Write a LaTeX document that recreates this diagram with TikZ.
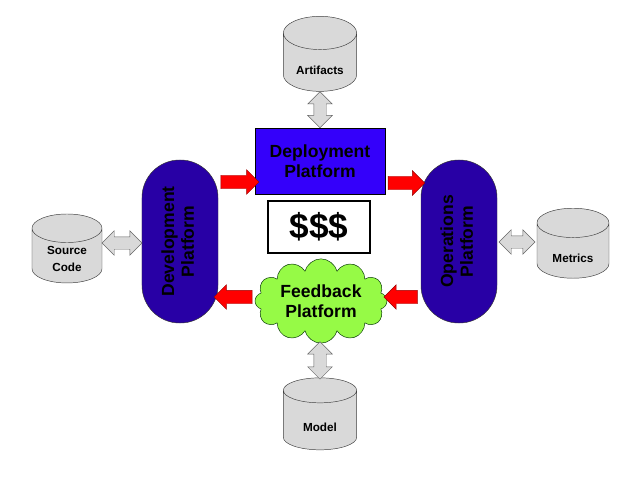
\documentclass[tikz,border=0pt]{standalone}
\usepackage{fontspec}
\setmainfont{Liberation Sans}
\usetikzlibrary{shapes.geometric,shapes.arrows,shapes.symbols}

\definecolor{deployblue}{RGB}{52,0,250}
\definecolor{pillblue}{RGB}{40,0,165}
\definecolor{cloudgreen}{RGB}{150,250,70}

\tikzstyle{store} = [cylinder, shape border rotate=90, aspect=0.6, draw=black!75, fill=black!15,%
                     minimum width=2.2cm, minimum height=2.25cm, align=center,%
                     font=\fontsize{10}{14}\selectfont\bfseries]
\tikzstyle{platform} = [draw=black, align=center, font=\fontsize{15}{17}\selectfont\bfseries]
\tikzstyle{pill} = [platform, draw=black!80, fill=pillblue, minimum width=2.28cm,%
                    minimum height=4.89cm, rounded corners=1.13cm]
\tikzstyle{link} = [double arrow, draw=black!60, fill=black!15, inner xsep=0pt, inner ysep=0.18cm,%
                    double arrow head extend=0.18cm, sloped, allow upside down]
\tikzstyle{flow} = [single arrow, draw=red!60!black, fill=red, inner xsep=0pt, inner ysep=0.195cm,%
                    single arrow head extend=0.165cm, sloped, allow upside down]

\begin{document}
\begin{tikzpicture}[x=0.03cm, y=-0.03cm]
	\useasboundingbox[fill=white] (0,0) rectangle (640,480);

	\node (Deploy)   [platform, fill=deployblue, minimum width=3.9cm, minimum height=1.98cm] at (320,161) {Deployment\\Platform};
	\node (DevPlat)  [pill] at (180,241.5) {\rotatebox{90}{\begin{tabular}{c}Development\\Platform\end{tabular}}};
	\node (OpsPlat)  [pill] at (459,241.5) {\rotatebox{90}{\begin{tabular}{c}Operations\\Platform\end{tabular}}};
	\node (Money)    [draw=black, line width=1.5pt, minimum width=3.06cm, minimum height=1.56cm,%
	                  font=\fontsize{30}{30}\selectfont\bfseries] at (319,227) {\$\$\$};
	\node (Feedback) [platform, cloud, cloud puffs=12, aspect=1.8, fill=cloudgreen, draw=black!80!green,%
	                  minimum width=3.96cm, minimum height=2.3cm, inner sep=0pt] at (321,301) {Feedback\\Platform};

	\node (Artifacts)  [store] at (320,66) {\\Artifacts};
	\node (SourceCode) [store, minimum width=2.1cm, minimum height=2.0cm] at (67,259) {Source\\Code};
	\node (Metrics)    [store, minimum width=2.16cm, minimum height=2.1cm] at (573,254) {\\Metrics};
	\node (Model)      [store, minimum height=2.16cm] at (320,423) {\\Model};

	% repositories
	\path (Artifacts.south) -- (Deploy.north) node[link, midway, minimum height=1.08cm] {};
	\path (SourceCode.east |- 0,243) -- (DevPlat.west |- 0,243) node[link, midway, minimum height=1.2cm] {};
	\path (OpsPlat.east |- 0,242) -- (Metrics.west |- 0,242) node[link, midway, minimum height=1.08cm] {};
	\path (Feedback.south -| Model.north) -- (Model.north) node[link, midway, minimum height=1.12cm] {};

	% pipeline
	\path (DevPlat.east |- 0,182) -- (Deploy.west |- 0,182) node[flow, midway, minimum height=1.14cm] {};
	\path (Deploy.east |- 0,183) -- (OpsPlat.west |- 0,183) node[flow, midway, minimum height=1.1cm] {};
	\path (OpsPlat.west |- 0,297) -- (Feedback.east |- 0,297) node[flow, midway, minimum height=1.0cm] {};
	\path (Feedback.west |- 0,297) -- (DevPlat.east |- 0,297) node[flow, midway, minimum height=1.14cm] {};
\end{tikzpicture}
\end{document}
